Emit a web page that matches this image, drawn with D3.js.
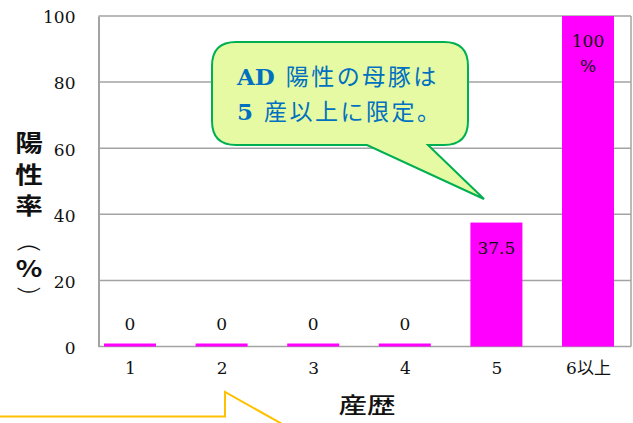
<!DOCTYPE html>
<html>
<head>
<meta charset="utf-8">
<script src="https://cdn.jsdelivr.net/npm/d3@7"></script>
<style>
  html, body { margin: 0; padding: 0; background: #fff; }
  svg { display: block; }
</style>
</head>
<body>
<svg id="chart" width="633" height="423"></svg>
<script>
// ---- data ----
const categories = ["1", "2", "3", "4", "5", "6以上"];
const values = [0, 0, 0, 0, 37.5, 100];
const valueLabels = [["0"], ["0"], ["0"], ["0"], ["37.5"], ["100", "%"]];
const yTicks = [0, 20, 40, 60, 80, 100];
const yTitleChars = ["陽", "性", "率", "(", "%", ")"];
const xTitle = "産歴";
const calloutLines = ["AD 陽性の母豚は", "5 産以上に限定。"];

// ---- layout ----
const plot = { left: 98.5, right: 631, top: 16, bottom: 346.5 };
const svg = d3.select("#chart");

const y = d3.scaleLinear().domain([0, 100]).range([plot.bottom, plot.top]);
const x = d3.scalePoint().domain(categories).range([130, 588]);
const barW = 52;
const numFont = "'DejaVu Serif', 'Noto Sans CJK JP', serif";

// gridlines
svg.append("g").selectAll("line").data(yTicks.filter(d => d > 0)).join("line")
  .attr("x1", plot.left).attr("x2", plot.right)
  .attr("y1", d => y(d)).attr("y2", d => y(d))
  .attr("stroke", "#a3a3a3").attr("stroke-width", 1.5);

// right border
svg.append("line")
  .attr("x1", plot.right).attr("x2", plot.right)
  .attr("y1", y(100)).attr("y2", y(0))
  .attr("stroke", "#a3a3a3").attr("stroke-width", 1.5);

// y axis
const yAxis = svg.append("g").attr("transform", `translate(${plot.left},0)`)
  .call(d3.axisLeft(y).tickValues(yTicks).tickSize(0).tickPadding(23).tickFormat(d3.format("d")));
yAxis.select(".domain").attr("stroke", "#a3a3a3").attr("stroke-width", 2);
yAxis.selectAll("text").attr("font-family", numFont).attr("font-size", 17)
  .attr("fill", "#111").attr("dy", "0.4em");

// x axis
const xAxis = svg.append("g").attr("transform", `translate(0,${plot.bottom})`)
  .call(d3.axisBottom(x).tickSize(0).tickPadding(15));
xAxis.select(".domain").attr("d", `M${plot.left},0H${plot.right}`)
  .attr("stroke", "#a3a3a3").attr("stroke-width", 1.5);
xAxis.selectAll("text").attr("font-family", numFont).attr("font-size", 17).attr("fill", "#111");

// bars
const minH = 3;
svg.append("g").selectAll("rect").data(values).join("rect")
  .attr("x", (d, i) => x(categories[i]) - barW / 2)
  .attr("width", barW)
  .attr("y", d => Math.min(y(d), y(0) - minH))
  .attr("height", d => Math.max(y(0) - y(d), minH))
  .attr("fill", "#ff00ff");

// value labels
const vl = svg.append("g");
values.forEach((v, i) => {
  const cx = x(categories[i]);
  valueLabels[i].forEach((t, j) => {
    const cy = v > 0 ? y(v) + 25 + j * 25 : y(v) - 23;
    vl.append("text").attr("x", cx).attr("y", cy).attr("dy", "0.36em")
      .attr("text-anchor", "middle").attr("font-family", numFont)
      .attr("font-size", 17).attr("fill", "#111").text(t);
  });
});

// y title (vertical, parentheses rotated)
const yPos = [143, 175, 206, 248, 269, 290];
const tg = svg.append("g");
yTitleChars.forEach((ch, i) => {
  const isParen = ch === "(" || ch === ")";
  tg.append("text")
    .attr("transform", isParen
      ? `translate(29,${yPos[i]}) scale(1.35,1.5) rotate(90)`
      : `translate(29,${yPos[i]}) scale(1.2,1)`)
    .attr("text-anchor", "middle").attr("dy", isParen ? "0.3em" : "0.36em")
    .attr("font-family", isParen ? "'DejaVu Sans', sans-serif" : "'Noto Sans CJK JP', sans-serif")
    .attr("font-weight", isParen ? 300 : 700)
    .attr("font-size", isParen ? 19 : 23)
    .attr("fill", "#111").text(ch);
});

// x title
svg.append("text").attr("transform", "translate(367,405) scale(1.3,1)")
  .attr("text-anchor", "middle").attr("dy", "0.36em")
  .attr("font-family", "'Noto Sans CJK JP', sans-serif").attr("font-weight", 500)
  .attr("font-size", 22).attr("fill", "#111").text(xTitle);

// callout
const c = { l: 212, r: 468, t: 42, b: 145, rad: 24, tail1: 367, tail2: 428, tipX: 484, tipY: 199 };
const p = d3.path();
p.moveTo(c.l + c.rad, c.t);
p.lineTo(c.r - c.rad, c.t);
p.quadraticCurveTo(c.r, c.t, c.r, c.t + c.rad);
p.lineTo(c.r, c.b - c.rad);
p.quadraticCurveTo(c.r, c.b, c.r - c.rad, c.b);
p.lineTo(c.tail2, c.b);
p.lineTo(c.tipX, c.tipY);
p.lineTo(c.tail1, c.b);
p.lineTo(c.l + c.rad, c.b);
p.quadraticCurveTo(c.l, c.b, c.l, c.b - c.rad);
p.lineTo(c.l, c.t + c.rad);
p.quadraticCurveTo(c.l, c.t, c.l + c.rad, c.t);
p.closePath();
svg.append("path").attr("d", p.toString())
  .attr("fill", "#e6faa4").attr("stroke", "#00b050").attr("stroke-width", 2);
const ct = svg.append("g");
calloutLines.forEach((line, i) => {
  const m = line.match(/^([A-Za-z0-9]+) (.*)$/);
  const t = ct.append("text").attr("x", 237).attr("y", 77 + i * 35).attr("dy", "0.36em")
    .attr("font-family", numFont).attr("font-size", 23).attr("fill", "#0070c0");
  t.append("tspan").attr("font-weight", 600).text(m[1] + " ");
  t.append("tspan").attr("letter-spacing", 2.5).attr("dx", 3).text(m[2]);
});

// partial yellow callout at bottom left
svg.append("path")
  .attr("d", "M-5,416.5H225V392L300,434")
  .attr("fill", "none").attr("stroke", "#ffc000").attr("stroke-width", 2);
</script>
</body>
</html>
